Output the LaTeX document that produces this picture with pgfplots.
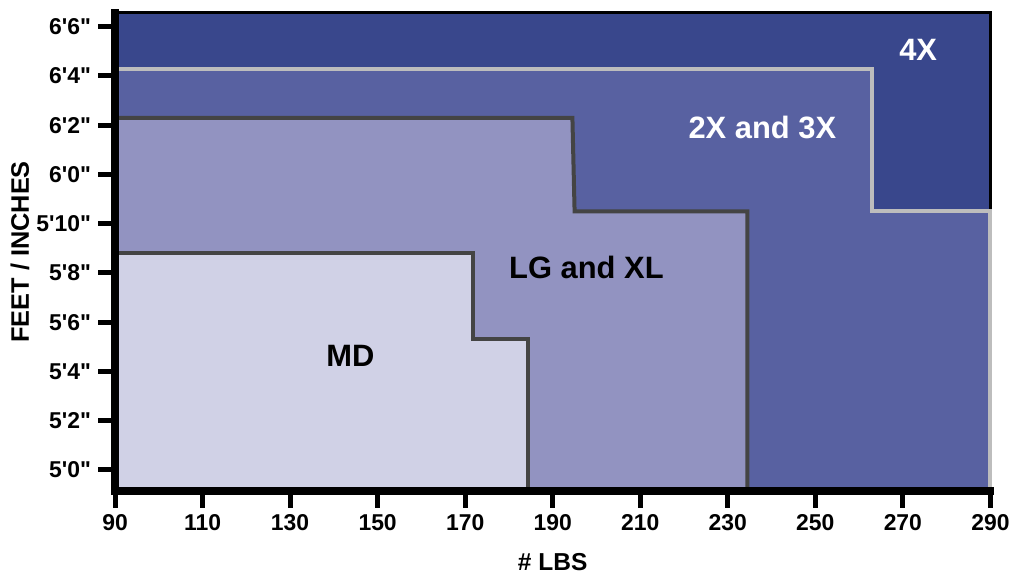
\documentclass[border=0pt]{standalone}
\usepackage{pgfplots}
\pgfplotsset{compat=1.18}
\usepackage{fontspec}
\setmainfont{Liberation Sans}[Ligatures=TeXOff]

\definecolor{fourx}{RGB}{57,71,140}
\definecolor{twox}{RGB}{88,97,161}
\definecolor{lgxl}{RGB}{146,147,193}
\definecolor{md}{RGB}{208,209,230}
\definecolor{edgegray}{RGB}{189,189,189}
\definecolor{edgedark}{RGB}{68,68,68}

\begin{document}
\begin{tikzpicture}
\begin{axis}[
    scale only axis,
    width=437.7bp, height=239bp,
    xmin=90, xmax=290,
    ymin=59.15, ymax=78.56,
    axis on top,
    axis x line*=bottom,
    axis y line*=left,
    axis line style={line width=4bp, line cap=rect},
    tick align=outside,
    major tick length=8.5bp,
    every tick/.style={line width=2.5bp, black},
    xtick={90,110,...,290},
    ytick={60,62,...,78},
    yticklabels={5'0",5'2",5'4",5'6",5'8",5'10",6'0",6'2",6'4",6'6"},
    /pgf/number format/assume math mode=true,
    /pgf/number format/1000 sep={},
    ticklabel style={font=\fontsize{11.5}{13}\selectfont\bfseries},
    xlabel={\# LBS},
    ylabel={FEET / INCHES},
    xlabel style={at={(axis description cs:0.5,0)}, anchor=center, yshift=-35.5bp,
        font=\fontsize{12.3}{14}\selectfont\bfseries},
    ylabel style={at={(axis description cs:-0.1085,0.5)}, anchor=center, rotate=0,
        font=\fontsize{12.7}{14}\selectfont\bfseries},
    clip=false,
]
% 4X region (whole frame)
\addplot[fill=fourx, draw=black, line width=1.5bp] coordinates {
    (90,59.15) (90,78.56) (290,78.56) (290,59.15)
} -- cycle;
% 2X and 3X
\addplot[fill=twox, draw=edgegray, line width=2bp, line join=miter] coordinates {
    (90,59.15) (90,76.3) (263,76.3) (263,70.5) (290,70.5) (290,59.15)
} -- cycle;
% LG and XL
\addplot[fill=lgxl, draw=edgedark, line width=2bp, line join=miter] coordinates {
    (90,59.15) (90,74.3) (194.5,74.3) (195,70.5) (234.5,70.5) (234.5,59.15)
} -- cycle;
% MD
\addplot[fill=md, draw=edgedark, line width=2bp, line join=miter] coordinates {
    (90,59.15) (90,68.8) (171.9,68.8) (171.9,65.3) (184.3,65.3) (184.3,59.15)
} -- cycle;

\node[white, font=\fontsize{15.5}{17}\selectfont\bfseries] at (axis cs:273.5,77.05) {4X};
\node[white, font=\fontsize{15.5}{17}\selectfont\bfseries] at (axis cs:237.9,73.9) {2X and 3X};
\node[black, font=\fontsize{15.5}{17}\selectfont\bfseries] at (axis cs:197.7,68.24) {LG and XL};
\node[black, font=\fontsize{15.5}{17}\selectfont\bfseries] at (axis cs:143.8,64.63) {MD};

\coordinate (bbsw) at (axis description cs:-0.1314,-0.1778);
\coordinate (bbne) at (axis description cs:1.0224,1.027);
\end{axis}
\pgfresetboundingbox
\path[use as bounding box] (bbsw) rectangle (bbne);
\end{tikzpicture}
\end{document}
